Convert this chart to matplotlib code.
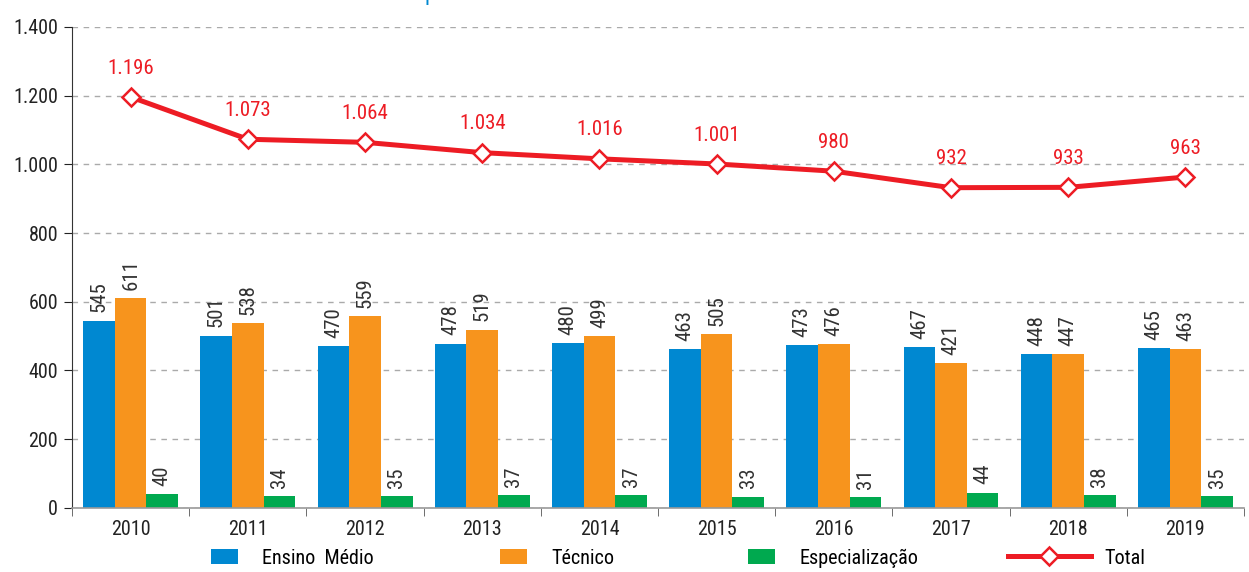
import matplotlib.pyplot as plt
import numpy as np
from matplotlib.ticker import FuncFormatter

plt.rcParams['font.family'] = ['Roboto Condensed', 'Liberation Sans Narrow', 'Liberation Sans', 'DejaVu Sans']

anos = ['2010', '2011', '2012', '2013', '2014', '2015', '2016', '2017', '2018', '2019']
ensino_medio = [545, 501, 470, 478, 480, 463, 473, 467, 448, 465]
tecnico = [611, 538, 559, 519, 499, 505, 476, 421, 447, 463]
especializacao = [40, 34, 35, 37, 37, 33, 31, 44, 38, 35]
total = [1196, 1073, 1064, 1034, 1016, 1001, 980, 932, 933, 963]

azul = '#0088d1'
laranja = '#f7941d'
verde = '#00a94f'
vermelho = '#ed1c24'
texto = '#333333'

fig = plt.figure(figsize=(12.49, 5.72), dpi=100)
ax = fig.add_axes([0.0577, 0.112, 0.9383, 0.841])

x = np.arange(len(anos))
w = 0.27
series = [(ensino_medio, azul, 'Ensino  Médio', -w), (tecnico, laranja, 'Técnico', 0), (especializacao, verde, 'Especialização', w)]
handles = []
for vals, cor, nome, dx in series:
    h = ax.bar(x + dx, vals, w, color=cor, label=nome, zorder=2)
    handles.append(h)
    for xi, v in zip(x + dx, vals):
        ax.annotate(str(v), (xi, v), xytext=(0, 6), textcoords='offset points',
                    rotation=90, ha='center', va='bottom', fontsize=15, color=texto)

ln, = ax.plot(x, total, color=vermelho, lw=3.6, marker='D', markersize=9,
              markerfacecolor='white', markeredgecolor=vermelho, markeredgewidth=1.8,
              label='Total', zorder=3)
handles.append(ln)
for xi, v in zip(x, total):
    ax.annotate(f'{v:,}'.replace(',', '.'), (xi, v), xytext=(0, 14), textcoords='offset points',
                ha='center', va='bottom', fontsize=15, color=vermelho)

ax.set_xlim(-0.5, len(anos) - 0.5)
ax.set_ylim(0, 1400)
ax.set_yticks(range(0, 1401, 200))
ax.yaxis.set_major_formatter(FuncFormatter(lambda v, p: f'{int(v):,}'.replace(',', '.')))
ax.set_xticks(x)
ax.set_xticklabels(anos)
ax.set_xticks(np.arange(-0.5, len(anos)), minor=True)
ax.tick_params(axis='x', which='major', length=0, labelsize=14.5, colors='#222222', pad=9)
ax.tick_params(axis='x', which='minor', length=6, color='#555555')
ax.tick_params(axis='y', length=6, labelsize=14.5, colors='#222222', pad=4)
ax.yaxis.grid(True, color='#aaaaaa', linestyle=(0, (4, 4)), lw=1, zorder=0)
ax.set_axisbelow(True)
for s in ['top', 'right']:
    ax.spines[s].set_visible(False)
ax.spines['left'].set_color('#333333')
ax.spines['bottom'].set_color('#999999')
ax.spines['bottom'].set_linewidth(1.2)

# legenda: uma entrada por posição, como no original
leg_x = [211, 500, 748, 1008]
for h, px in zip(handles, leg_x):
    linha = h is ln
    fig.legend(handles=[h], loc='center left', bbox_to_anchor=(px / 1249, 1 - 558 / 572),
               bbox_transform=fig.transFigure, frameon=False, fontsize=14.5,
               borderpad=0, borderaxespad=0, handlelength=4.1 if linha else 1.35,
               handleheight=0.78, handletextpad=0.7 if linha else 1.2)

fig.text(0.344, 1.0, 'p', color=azul, fontsize=16, ha='center', va='baseline')

fig.savefig('out.png', dpi=100)
